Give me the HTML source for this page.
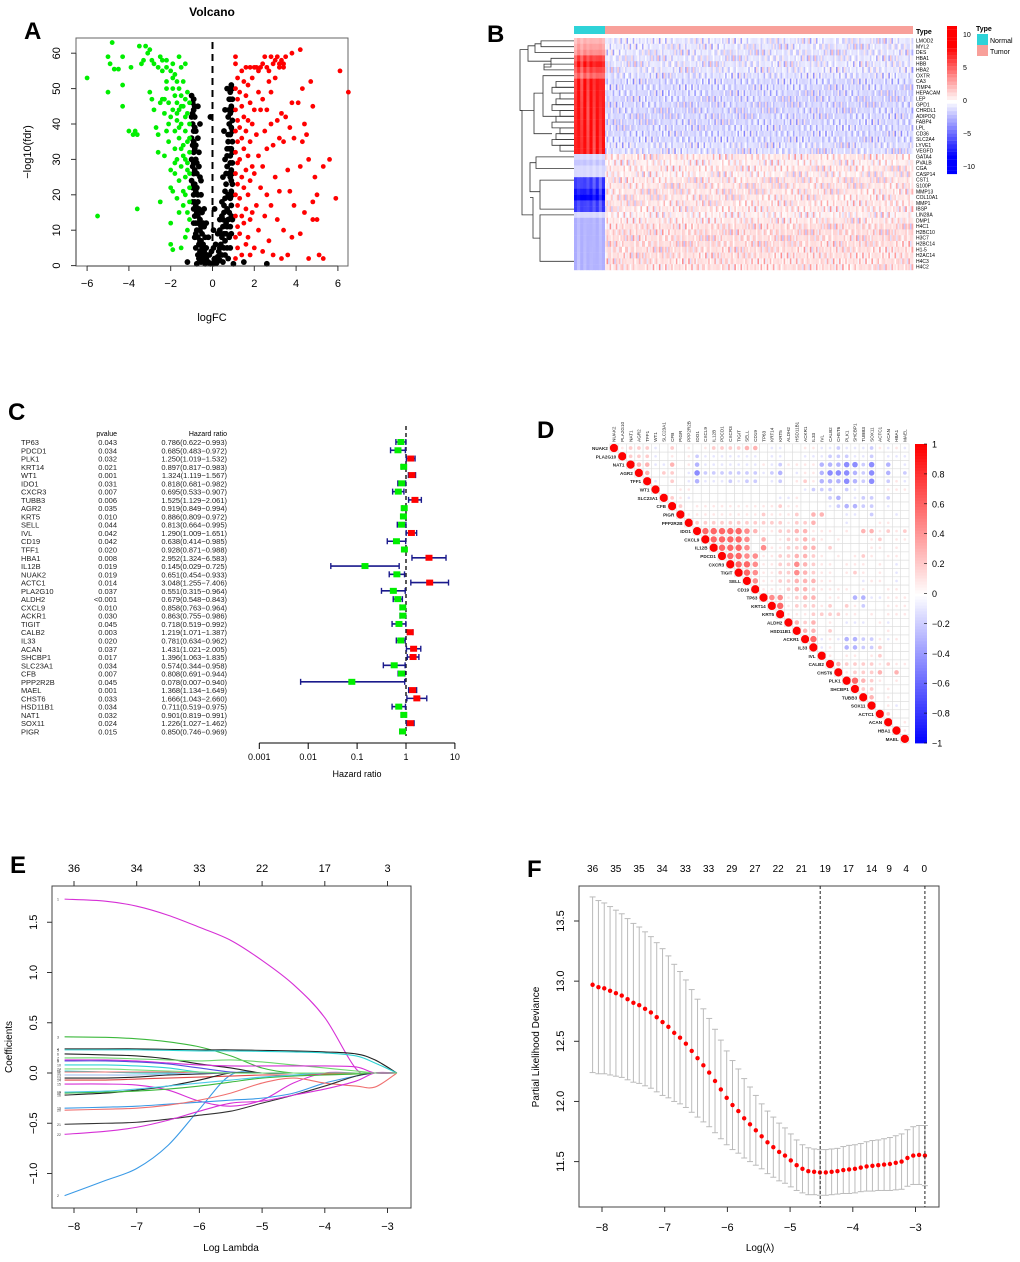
<!DOCTYPE html>
<html><head><meta charset="utf-8"><style>
html,body{margin:0;padding:0;background:#fff;}
svg{display:block;font-family:"Liberation Sans",Arial,sans-serif;}
</style></head><body>
<svg id="fig" width="1020" height="1262" viewBox="0 0 1020 1262" xmlns="http://www.w3.org/2000/svg">
<g id="pA"></g>
<g id="pB"></g>
<g id="pC"></g>
<g id="pD"></g>
<g id="pE"></g>
<g id="pF"></g>
</svg>
<script>
// ---------- DATA ----------
const volcanoGreen=[[-6,53],[-5.5,14],[-5,59],[-5,49],[-4.9,57],[-4.8,63],[-4.7,55.5],[-4.5,55.5],[-4.3,59],[-4.3,51],[-4.3,45],[-4.0,38],[-3.9,56],[-3.8,37],[-3.7,38],[-3.6,37],[-3.6,16],[-3.5,62],[-3.4,57],[-3.3,58],[-3.2,62],[-3.1,60],[-3.0,61],[-2.9,58],[-2.8,57],[-3.0,49],[-2.9,47],[-2.8,44],[-2.7,39],[-2.6,37],[-2.6,32],[-2.5,18],[-2.5,59],[-2.4,55],[-2.4,47],[-2.3,43],[-2.3,31],[-2.2,58],[-2.2,52],[-2.1,46],[-2.1,40],[-2.1,35],[-2.0,27],[-2.0,22],[-2.0,12],[-2.0,6],[-1.9,57],[-1.9,50],[-1.9,44],[-1.9,21],[-1.9,4.5],[-1.8,54],[-1.8,48],[-1.8,38],[-1.8,33],[-1.8,26],[-1.7,52],[-1.7,46],[-1.7,41],[-1.7,30],[-1.7,19],[-1.6,59],[-1.6,50],[-1.6,44],[-1.6,36],[-1.6,24],[-1.6,15],[-1.5,56],[-1.5,48],[-1.5,40],[-1.5,28],[-1.5,5],[-1.4,52],[-1.4,45],[-1.4,34],[-1.4,21],[-1.4,17],[-1.3,57],[-1.3,47],[-1.3,38],[-1.3,30],[-1.3,25],[-1.3,8],[-1.2,49],[-1.2,43],[-1.2,35],[-1.2,27],[-1.2,15],[-1.2,10],[-1.1,46],[-1.1,40],[-1.1,32],[-1.1,22],[-1.1,13],[-2.2,56],[-2.0,55],[-1.9,53],[-2.3,47],[-2.5,46],[-1.7,43],[-2.4,58],[-2.6,56],[-2.2,50],[-1.5,45],[-1.3,42],[-1.1,36],[-1.2,29],[-1.1,26],[-1.4,31],[-1.6,39],[-2.0,42],[-2.2,38],[-1.8,29],[-1.5,33],[-1.1,18],[-1.3,20]];
const volcanoRed=[[1.1,59],[1.1,57],[1.2,53],[1.1,50],[1.2,47],[1.1,44],[1.2,41],[1.1,38],[1.2,35],[1.1,32],[1.2,29],[1.1,26],[1.2,23],[1.1,20],[1.2,17],[1.1,14],[1.2,11],[1.1,8],[1.2,5],[1.1,2],[1.3,49],[1.3,39],[1.3,30],[1.3,19],[1.3,9],[1.4,55],[1.4,45],[1.4,36],[1.4,25],[1.4,14],[1.4,3],[1.5,52],[1.5,42],[1.5,33],[1.5,22],[1.5,12],[1.6,56],[1.6,48],[1.6,38],[1.6,27],[1.6,16],[1.6,6],[1.7,51],[1.7,41],[1.7,31],[1.7,20],[1.7,8],[1.8,56],[1.8,46],[1.8,35],[1.8,24],[1.8,13],[1.8,3],[1.9,53],[1.9,40],[1.9,28],[1.9,15],[2.0,56],[2.0,44],[2.0,26],[2.0,5],[2.1,56],[2.1,37],[2.1,17],[2.2,55],[2.2,49],[2.2,31],[2.2,10],[2.3,56],[2.3,44],[2.3,22],[2.4,57],[2.4,47],[2.4,28],[2.4,4],[2.5,59],[2.5,38],[2.5,14],[2.6,56],[2.6,44],[2.6,33],[2.6,20],[2.7,55],[2.7,52],[2.7,7],[2.8,59],[2.8,49],[2.8,40],[2.8,17],[2.9,57],[2.9,34],[2.9,3],[3.0,58],[3.0,53],[3.0,25],[3.1,59],[3.1,41],[3.1,13],[3.2,57],[3.2,56],[3.2,36],[3.2,21],[3.3,58],[3.3,43],[3.3,2],[3.4,56],[3.4,57],[3.4,35],[3.4,10],[3.5,59],[3.5,42],[3.6,27],[3.6,3],[3.7,21],[3.7,39],[3.8,60],[3.8,46],[3.8,8],[3.9,36],[3.9,17],[4.1,46],[4.2,61],[4.2,28],[4.2,9],[4.3,50],[4.3,35],[4.4,40],[4.4,15],[4.5,37],[4.6,30],[4.6,2],[4.7,52],[4.8,45],[4.8,18],[4.8,13],[4.9,25],[5.0,20],[5.0,13],[5.1,3],[5.3,28],[5.3,2],[5.6,30],[5.9,19],[6.1,55],[6.5,49]];
const volcanoBlack=[[-1,48],[-0.95,46],[-0.9,44],[-1,42],[-0.95,40],[-0.9,38],[-1,36],[-0.95,34],[-0.9,32],[-1,30],[-0.95,28],[-0.9,26],[-1,24],[-0.95,22],[-0.9,20],[-0.85,18],[-0.9,16],[-0.85,14],[-0.8,12],[-0.75,10],[-0.7,8],[-0.65,6],[-0.6,4],[-0.5,2],[-0.4,1],[-0.85,42],[-0.8,38],[-0.8,34],[-0.8,30],[-0.75,26],[-0.75,22],[-0.7,18],[-0.7,14],[-0.6,10],[-0.55,7],[-0.5,5],[-0.45,3],[-0.3,2],[-0.2,1],[-0.1,0.5],[-0.7,45],[-0.6,40],[-0.65,32],[-0.6,25],[-0.55,20],[-0.5,15],[-0.4,11],[-0.35,8],[-0.3,5],[-0.15,3],[-0.3,12],[-0.2,8],[-0.1,42],[-0.75,0.5],[-1.2,1],[0.9,51],[0.85,49],[0.95,47],[0.9,45],[0.85,43],[0.95,41],[0.9,39],[0.85,37],[0.95,35],[0.9,33],[0.85,31],[0.95,29],[0.9,27],[0.85,25],[0.95,23],[0.9,21],[0.85,19],[0.9,17],[0.8,15],[0.75,13],[0.7,11],[0.65,9],[0.6,7],[0.55,5],[0.45,3],[0.35,1.5],[0.2,0.8],[0.8,47],[0.75,42],[0.75,37],[0.7,33],[0.7,28],[0.65,23],[0.6,19],[0.55,15],[0.5,11],[0.45,8],[0.4,6],[0.3,4],[0.1,2],[0.6,30],[0.5,25],[0.45,18],[0.35,13],[0.25,9],[0.15,6],[0.7,50],[0.6,44],[0.55,38],[0.1,16],[0.05,10],[1.0,0.5],[1.5,1],[2.6,0.5],[-0.05,4],[0.05,5],
[-0.9,47],[-0.85,45],[-0.95,43],[-0.85,39],[-0.9,35],[-0.85,33],[-0.9,29],[-0.85,27],[-0.9,23],[-0.8,21],[-0.85,23],[-0.8,17],[-0.75,15],[-0.8,9],[-0.7,12],[-0.65,16],[-0.7,20],[-0.75,29],[-0.7,36],[-0.65,28],[-0.6,13],[-0.55,11],[-0.45,6],[-0.4,4],[-0.25,3],[-0.65,2],[-0.55,1],[-0.35,0.5],[0.15,1],[0.05,0.5],[0.25,2.5],[0.35,5],[0.4,9],[0.5,13],[0.55,17],[0.6,21],[0.65,26],[0.7,31],[0.75,35],[0.8,40],[0.8,44],[0.85,47],[0.95,50],[0.95,44],[0.95,38],[0.95,32],[0.95,26],[0.95,20],[0.9,14],[0.85,11],[0.8,8],[0.7,5],[0.6,3],[0.5,1],[0.75,2],[0.85,5],[0.9,9],[0.95,13],[0.9,24],[0.85,29],[0.8,33],[0.8,26],[0.75,20],[0.7,16],[0.65,12],[0.55,9],[0.45,14],[0.35,10],[-0.95,18],[-0.9,12],[-0.85,8],[-0.8,5],[-0.7,3],[-0.6,7],[-0.5,9],[-0.45,12],[-0.4,16],[-0.55,24]];

const hmGenes=["LMOD2","MYL2","DES","HBA1","HBB","HBA2","OXTR","CA3","TIMP4","HEPACAM","LEP","GPD1","CHRDL1","ADIPOQ","FABP4","LPL","CD36","SLC2A4","LYVE1","VEGFD","GATA4","PVALB","CGA","CASP14","CST1","S100P","MMP13","COL10A1","MMP1","IBSP","LIN28A","DMP1","H4C1","H2BC10","H3C7","H2BC14","H1-5","H2AC14","H4C3","H4C2"];
const hmNormal=[2,2.5,3,5,6,5,4,6,6,6,6,6,6,6,6,6,6,6,6,6,-1,-1.5,-1,-1,-5,-5,-6,-7,-5,-5,-1,-2,-2,-2,-2,-2,-2,-2,-2,-2];
const hmTumor=[-0.3,-0.3,-0.3,-0.3,-0.3,-0.3,-0.4,-0.5,-0.5,-0.5,-0.5,-0.5,-0.5,-0.5,-0.5,-0.5,-0.5,-0.5,-0.4,-0.4,0.3,0.2,0.3,0.2,0.3,0.3,0.3,0.3,0.3,0.3,0.2,0.3,0.4,0.4,0.4,0.4,0.4,0.4,0.4,0.4];

const fGenes=["TP63","PDCD1","PLK1","KRT14","WT1","IDO1","CXCR3","TUBB3","AGR2","KRT5","SELL","IVL","CD19","TFF1","HBA1","IL12B","NUAK2","ACTC1","PLA2G10","ALDH2","CXCL9","ACKR1","TIGIT","CALB2","IL33","ACAN","SHCBP1","SLC23A1","CFB","PPP2R2B","MAEL","CHST6","HSD11B1","NAT1","SOX11","PIGR"];
const fP=["0.043","0.034","0.032","0.021","0.001","0.031","0.007","0.006","0.035","0.010","0.044","0.042","0.042","0.020","0.008","0.019","0.019","0.014","0.037","<0.001","0.010","0.030","0.045","0.003","0.020","0.037","0.017","0.034","0.007","0.045","0.001","0.033","0.034","0.032","0.024","0.015"];
const fHR=[0.786,0.685,1.250,0.897,1.324,0.818,0.695,1.525,0.919,0.886,0.813,1.290,0.638,0.928,2.952,0.145,0.651,3.048,0.551,0.679,0.858,0.863,0.718,1.219,0.781,1.431,1.396,0.574,0.808,0.078,1.368,1.666,0.711,0.901,1.226,0.850];
const fLo=[0.622,0.483,1.019,0.817,1.119,0.681,0.533,1.129,0.849,0.809,0.664,1.009,0.414,0.871,1.324,0.029,0.454,1.255,0.315,0.548,0.763,0.755,0.519,1.071,0.634,1.021,1.063,0.344,0.691,0.007,1.134,1.043,0.519,0.819,1.027,0.746];
const fHi=[0.993,0.972,1.532,0.983,1.567,0.982,0.907,2.061,0.994,0.972,0.995,1.651,0.985,0.988,6.583,0.725,0.933,7.406,0.964,0.843,0.964,0.986,0.992,1.387,0.962,2.005,1.835,0.958,0.944,0.940,1.649,2.660,0.975,0.991,1.462,0.969];
const fTicks=[0.001,0.01,0.1,1,10];

const cGenes=["NUAK2","PLA2G10","NAT1","AGR2","TFF1","WT1","SLC23A1","CFB","PIGR","PPP2R2B","IDO1","CXCL9","IL12B","PDCD1","CXCR3","TIGIT","SELL","CD19","TP63","KRT14","KRT5","ALDH2","HSD11B1","ACKR1","IL33","IVL","CALB2","CHST6","PLK1","SHCBP1","TUBB3","SOX11","ACTC1","ACAN","HBA1","MAEL"];
const cRows=["1222a.2.1.1222233.aa..11aabaaab1a1a","222a.1.1baaaaaaa.aa..aaabbbaab.aaa","33aa3.1caaaaaaa1ab1111cccddbd.c.a","3.22.adbbbbbbbabc.a11cdddcbd.c.b","a.2.acaaababb.ab.121cccdcbd.b1a","..11.............abbb.ba...111.2..","21a..........aa1...bc.abb.b..","2.1111111111211...abccbb.a...","11111111121112 33..aa.b..a..","222222222221223...a...11..","5555543112233111 1.331212a1","55554 3.122321 1...12.11a.","5554 4112233 2....11.1...","554411223321 1.121.11..","554112243211.111.1.a.","54112243211.121.1.a.","4112233311...a11.a.","11123321111.1..11..","441233 11.ccaa111.","5122212 21b..111.","111222211.1.111","323.1.aaa.1a..","33.2......1..","5a1accbb1a1.","a1.ccbb2...","1.11 12....","322221211","12223 3..","5321 1..","22.1..","3.1..",".1a.","2..",".1","1"];
const cLegend=[1,0.8,0.6,0.4,0.2,0,-0.2,-0.4,-0.6,-0.8,-1];

const eLambda=[-8.15,-7.5,-7,-6.5,-6,-5.5,-5,-4.5,-4,-3.5,-3.2,-2.85];
const eTop=[36,34,33,22,17,3];
const eCoefs=[
 [1.73,1.71,1.66,1.57,1.45,1.32,1.12,0.88,0.55,0.04,0,0],
 [-1.22,-1.07,-0.95,-0.72,-0.36,-0.02,0,0,0,0,0,0],
 [0.36,0.355,0.34,0.31,0.26,0.17,0.05,0,0,0,0,0],
 [0.24,0.24,0.24,0.235,0.23,0.23,0.225,0.22,0.21,0.19,0.13,0],
 [0.23,0.23,0.23,0.225,0.22,0.22,0.215,0.21,0.2,0.17,0.1,0],
 [0.19,0.18,0.17,0.14,0.09,0.05,0,0,0,0,0,0],
 [0.15,0.15,0.14,0.13,0.12,0.13,0.11,0.08,0.05,0.02,0,0],
 [0.13,0.13,0.12,0.1,0.08,0.07,0.07,0.07,0.07,0.06,0,0],
 [0.12,0.12,0.11,0.09,0.05,0.01,0,0,0,0,0,0],
 [0.08,0.08,0.07,0.05,0.01,0,0,0,0,0,0,0],
 [0.02,0.01,0,0,0,0,0,0,0,0,0,0],
 [0.01,0.01,0.01,0.01,0,0,0,0,0,0,0,0],
 [-0.05,-0.05,-0.04,-0.02,-0.01,0,0,0,0,0,0,0],
 [-0.07,-0.07,-0.06,-0.05,-0.04,-0.03,-0.02,-0.02,-0.01,-0.01,0,0],
 [-0.11,-0.11,-0.12,-0.17,-0.28,-0.33,-0.27,-0.1,0,0,0,0],
 [-0.22,-0.2,-0.17,-0.13,-0.07,0,0,0,0,0,0,0],
 [-0.2,-0.19,-0.18,-0.16,-0.13,-0.09,-0.05,-0.03,-0.02,-0.01,0,0],
 [-0.19,-0.18,-0.16,-0.13,-0.1,-0.07,-0.04,-0.02,0,0,0,0],
 [-0.35,-0.34,-0.33,-0.31,-0.29,-0.27,-0.25,-0.2,-0.1,-0.03,0,0],
 [-0.37,-0.36,-0.35,-0.32,-0.27,-0.2,-0.1,-0.05,-0.1,-0.13,-0.14,0],
 [-0.51,-0.5,-0.49,-0.46,-0.42,-0.38,-0.3,-0.22,-0.13,-0.03,0,0],
 [-0.61,-0.58,-0.54,-0.47,-0.38,-0.3,-0.28,-0.22,-0.16,-0.08,0,0],
 [-0.02,-0.02,-0.02,-0.01,0,0,0,0,0,0,0,0],
 [0.04,0.04,0.03,0.02,0.01,0,0,0,0,0,0,0]
];
const eColors=["#d62fd6","#3a9ae6","#3cb83c","#222","#2ed3d3","#222","#6fd66f","#d62fd6","#5050e0","#2ed3d3","#2ed3d3","#f07070","#222","#e04848","#d62fd6","#222","#3cb83c","#4ec8e8","#3a9ae6","#f07070","#333","#d62fd6","#9be","#7d7"];

const fMean=[12.97,12.95,12.94,12.92,12.90,12.88,12.85,12.82,12.80,12.77,12.74,12.70,12.66,12.62,12.57,12.53,12.48,12.42,12.36,12.30,12.24,12.17,12.10,12.03,11.97,11.92,11.86,11.81,11.76,11.71,11.66,11.62,11.58,11.55,11.51,11.47,11.44,11.42,11.415,11.41,11.41,11.415,11.42,11.43,11.435,11.44,11.45,11.46,11.465,11.47,11.475,11.48,11.49,11.50,11.53,11.55,11.555,11.55];
const fSE=[0.73,0.72,0.71,0.70,0.69,0.68,0.67,0.66,0.65,0.64,0.63,0.62,0.61,0.59,0.57,0.55,0.53,0.51,0.49,0.47,0.45,0.43,0.41,0.39,0.37,0.35,0.33,0.31,0.29,0.27,0.26,0.25,0.24,0.23,0.22,0.21,0.20,0.195,0.19,0.19,0.19,0.19,0.19,0.195,0.2,0.2,0.2,0.205,0.21,0.21,0.215,0.22,0.225,0.23,0.235,0.24,0.245,0.25];
const fTop=[36,35,35,34,33,33,29,27,22,21,19,17,14,9,4,0];
const fTopX=[-8.15,-7.78,-7.41,-7.04,-6.67,-6.3,-5.93,-5.56,-5.19,-4.82,-4.44,-4.07,-3.7,-3.42,-3.15,-2.86];
const fLamMin=-4.52, fLam1se=-2.85;

// ---------- helpers ----------
const NS="http://www.w3.org/2000/svg";
function mk(parent,tag,attrs,text){const e=document.createElementNS(NS,tag);for(const k in attrs)e.setAttribute(k,attrs[k]);if(text!==undefined)e.textContent=text;parent.appendChild(e);return e;}
function txt(parent,x,y,s,size,opts){opts=opts||{};const e=mk(parent,'text',{x:x,y:y,'font-size':size,'text-anchor':opts.anchor||'start',fill:opts.fill||'#000','font-weight':opts.bold?'bold':'normal'},s);if(opts.rot)e.setAttribute('transform',`rotate(${opts.rot} ${x} ${y})`);return e;}

// ---------- Panel A ----------
(function(){
const g=document.getElementById('pA');
const X=v=>212.5+v*20.9, Y=v=>265.6-v*3.54;
let t=txt(g,24,39,'A',24,{bold:1});


t=txt(g,212,16,'Volcano',12,{bold:1,anchor:'middle'});


let r=mk(g,'rect',{x:76,y:38,width:272,height:228,fill:'none',stroke:'#666','stroke-width':1});


const pts=mk(g,'g',{});


volcanoBlack.forEach(p=>{const c=mk(pts,'circle',{cx:X(p[0]),cy:Y(p[1]),r:2.9,fill:'#000'});});
volcanoGreen.forEach(p=>{const c=mk(pts,'circle',{cx:X(p[0]),cy:Y(p[1]),r:2.4,fill:'#00ee00'});});
volcanoRed.forEach(p=>{const c=mk(pts,'circle',{cx:X(p[0]),cy:Y(p[1]),r:2.4,fill:'#ff0000'});});
let l=mk(g,'line',{x1:X(0),x2:X(0),y1:42,y2:266,stroke:'#000','stroke-width':2,'stroke-dasharray':'7,5'});


const ax=mk(g,'g',{});


mk(ax,'line',{x1:X(-6),x2:X(6),y1:266,y2:266,stroke:'#333'});
[-6,-4,-2,0,2,4,6].forEach(v=>{mk(ax,'line',{x1:X(v),x2:X(v),y1:266,y2:271,stroke:'#333'});txt(ax,X(v),287,v<0?'\u2212'+(-v):String(v),11,{anchor:'middle'});});
const ay=mk(g,'g',{});


mk(ay,'line',{x1:76,x2:76,y1:Y(0),y2:Y(60),stroke:'#333'});
[0,10,20,30,40,50,60].forEach(v=>{mk(ay,'line',{x1:71,x2:76,y1:Y(v),y2:Y(v),stroke:'#333'});txt(ay,60,Y(v),String(v),11,{anchor:'middle',rot:-90});});
t=txt(g,212,321,'logFC',11,{anchor:'middle'});


t=txt(g,31,152,'\u2212log10(fdr)',11,{anchor:'middle',rot:-90});


})();

// ---------- Panel B ----------
(function(){
const g=document.getElementById('pB');
let t=txt(g,487,42,'B',24,{bold:1});


const x0=574,x1=913,xN=605,y0=38,rh=5.8;
function col(v){v=Math.max(-10,Math.min(10,v));const a=Math.abs(v)/10;const k=Math.round(255*(1-Math.min(1,a*1.35)));return v>=0?`rgb(255,${k},${k})`:`rgb(${k},${k},255)`;}
let b=mk(g,'rect',{x:x0,y:26,width:xN-x0,height:8,fill:'#2ed3d8'});


b=mk(g,'rect',{x:xN,y:26,width:x1-xN,height:8,fill:'#f8a09a'});


t=txt(g,916,34,'Type',7,{bold:1});


const hm=mk(g,'g',{});


const nc=10, tc=200;
hmGenes.forEach((gn,i)=>{
  const y=y0+i*rh;
  for(let c=0;c<nc;c++){const w=(xN-x0)/nc;const v=hmNormal[i]*(0.8+0.4*Math.abs(Math.sin(i*3.1+c*1.7)));mk(hm,'rect',{x:x0+c*w,y:y,width:w+0.3,height:rh+0.2,fill:col(v)});}
  for(let c=0;c<tc;c++){const w=(x1-xN)/tc;const v=hmTumor[i]*2.2+2.6*Math.sin(c*2.37+i*0.9)*Math.cos(c*0.71+i*1.3)*Math.sin(c*0.13+i*2.1);mk(hm,'rect',{x:xN+c*w,y:y,width:w+0.3,height:rh+0.2,fill:col(v)});}
  const lb=txt(g,916,y+4.5,gn,5);
  
  
});
const d=mk(g,'g',{fill:'none',stroke:'#333','stroke-width':0.8});


const ym=i=>y0+i*rh+rh/2;
function br(xj,ya,yb,xa,xb){mk(d,'path',{d:`M${xa},${ya}H${xj}V${yb}H${xb}`});}
br(541,ym(0),ym(1),574,574);br(544,ym(4),ym(5),574,574);br(551,ym(3),(ym(4)+ym(5))/2,574,544);
br(535,(ym(0)+ym(1))/2,ym(2),541,574);br(528,(ym(0)+ym(1))/2+2,(ym(3)+ym(4))/2,535,551);
for(let i=7;i<19;i++){br(560-(i%3)*4,ym(i),ym(i+1),574,574);}
br(543,ym(6),ym(13),574,556);br(534,ym(9),ym(16),543,552);br(520,(ym(1)+ym(2))/2,ym(12),528,534);
br(536,ym(20),ym(22),574,574);br(530,ym(21),ym(26),536,540);br(540,ym(24),ym(29),574,574);
br(540,ym(30),ym(38),574,574);br(533,ym(27),ym(34),530,540);br(522,ym(12),ym(30),520,533);
const cb=mk(g,'g',{});


for(let k=0;k<40;k++){const v=10-k*0.5;mk(cb,'rect',{x:947,y:26+k*3.7,width:10,height:3.8,fill:col(v)});}
[[10,34],[5,67],[0,100],[-5,133],[-10,166]].forEach(a=>txt(cb,963,a[1]+3,a[0]<0?'\u2212'+(-a[0]):String(a[0]),7));
const lg=mk(g,'g',{});


txt(lg,976,31,'Type',7,{bold:1});
mk(lg,'rect',{x:977,y:34,width:11,height:11,fill:'#2ed3d8'});
mk(lg,'rect',{x:977,y:45,width:11,height:11,fill:'#f8a09a'});
txt(lg,990,43,'Normal',7);txt(lg,990,54,'Tumor',7);
})();

// ---------- Panel C ----------
(function(){
const g=document.getElementById('pC');
let t=txt(g,8,420,'C',24,{bold:1});


const L=v=>406+Math.log10(v)*48.9;
const rowY=i=>442+i*8.27;
t=txt(g,117,436,'pvalue',7,{anchor:'end'});


t=txt(g,227,436,'Hazard ratio',7,{anchor:'end'});


mk(g,'line',{x1:L(1),x2:L(1),y1:426,y2:736,stroke:'#000','stroke-width':1.3,'stroke-dasharray':'4,3'});
fGenes.forEach((gn,i)=>{
  const y=rowY(i);
  const row=mk(g,'g',{});
  
  
  txt(row,21,y+3,gn,7.5,{fill:'#222'});
  txt(row,117,y+3,fP[i],7.5,{anchor:'end',fill:'#222'});
  txt(row,227,y+3,fHR[i].toFixed(3)+'('+fLo[i].toFixed(3)+'\u2212'+fHi[i].toFixed(3)+')',7.5,{anchor:'end',fill:'#222'});
  mk(row,'line',{x1:L(fLo[i]),x2:L(fHi[i]),y1:y,y2:y,stroke:'#1a1a8c','stroke-width':1.6});
  mk(row,'line',{x1:L(fLo[i]),x2:L(fLo[i]),y1:y-3,y2:y+3,stroke:'#1a1a8c','stroke-width':1.4});
  mk(row,'line',{x1:L(fHi[i]),x2:L(fHi[i]),y1:y-3,y2:y+3,stroke:'#1a1a8c','stroke-width':1.4});
  mk(row,'rect',{x:L(fHR[i])-3.5,y:y-3,width:7,height:6,fill:fHR[i]>1?'#ff0000':'#00ee00'});
});
const ax=mk(g,'g',{});


mk(ax,'line',{x1:L(0.001),x2:L(10),y1:743,y2:743,stroke:'#000'});
fTicks.forEach(v=>{mk(ax,'line',{x1:L(v),x2:L(v),y1:743,y2:749,stroke:'#000'});txt(ax,L(v),760,String(v),9,{anchor:'middle'});});
t=txt(g,357,777,'Hazard ratio',9,{anchor:'middle'});


})();

// ---------- Panel D ----------
(function(){
const g=document.getElementById('pD');
let t=txt(g,537,438,'D',24,{bold:1});


const cx0=614,cy0=448,s=8.31;
const map={'.':0,' ':0,'1':0.1,'2':0.2,'3':0.3,'4':0.45,'5':0.6,'a':-0.1,'b':-0.2,'c':-0.3,'d':-0.45};
function col(v){const a=Math.min(1,Math.abs(v));const k=Math.round(255*(1-a));return v>=0?`rgb(255,${k},${k})`:`rgb(${k},${k},255)`;}
const n=cGenes.length;
const grid=mk(g,'g',{});


for(let i=0;i<n;i++){
  for(let j=i;j<n;j++){
    let v=1; if(j>i){const str=cRows[i]||'';v=map[str[j-i-1]]??0;}
    const x=cx0+j*s,y=cy0+i*s;
    mk(grid,'rect',{x:x-s/2,y:y-s/2,width:s,height:s,fill:'#fff',stroke:'#ddd','stroke-width':0.6});
    if(v!==0){const c=mk(grid,'circle',{cx:x,cy:y,r:Math.sqrt(Math.abs(v))*s*0.5,fill:col(v)});}
  }
  const rl=txt(g,cx0+i*s-s/2-2,cy0+i*s+2,cGenes[i],4.6,{anchor:'end',bold:1,fill:'#222'});
  
  
  const cl=txt(g,cx0+i*s+1.7,cy0-s/2-2,cGenes[i],4.6,{rot:-90,fill:'#222'});
  
  
}
const cb=mk(g,'g',{});


const top=444,bot=743;
for(let k=0;k<100;k++){const v=1-k*0.02;mk(cb,'rect',{x:915,y:top+k*(bot-top)/100,width:12,height:(bot-top)/100+0.4,fill:col(v)});}
cLegend.forEach(v=>{const y=top+(1-v)/2*(bot-top);mk(cb,'line',{x1:924,x2:927,y1:y,y2:y,stroke:'#000','stroke-width':0.6});txt(cb,932,y+3.5,v<0?'\u2212'+(-v):String(v),9);});
})();

// ---------- Panel E ----------
(function(){
const g=document.getElementById('pE');
let t=txt(g,10,873,'E',24,{bold:1});


const X=v=>74+(v+8)*62.7, Y=v=>1073-v*100.5;
let r=mk(g,'rect',{x:52,y:886,width:359,height:322,fill:'none',stroke:'#444'});


const lines=mk(g,'g',{fill:'none','stroke-width':1.1});


eCoefs.forEach((c,k)=>{
  const p=c.map((v,i)=>[X(eLambda[i]),Y(v)]);
  let d=`M${p[0][0]},${p[0][1]}`;
  for(let i=0;i<p.length-1;i++){const p0=p[Math.max(0,i-1)],p1=p[i],p2=p[i+1],p3=p[Math.min(p.length-1,i+2)];
    d+=` C${p1[0]+(p2[0]-p0[0])/6},${p1[1]+(p2[1]-p0[1])/6} ${p2[0]-(p3[0]-p1[0])/6},${p2[1]-(p3[1]-p1[1])/6} ${p2[0]},${p2[1]}`;}
  const pa=mk(lines,'path',{d:d,stroke:eColors[k%eColors.length]});
  
  
  txt(g,57,Y(c[0])+1.5,String(k+1),3.5,{fill:'#333'});
});
const ax=mk(g,'g',{});


[-8,-7,-6,-5,-4,-3].forEach((v,i)=>{
  mk(ax,'line',{x1:X(v),x2:X(v),y1:1208,y2:1213,stroke:'#333'});
  txt(ax,X(v),1230,'\u2212'+(-v),11,{anchor:'middle'});
  mk(ax,'line',{x1:X(v),x2:X(v),y1:881,y2:886,stroke:'#333'});
  txt(ax,X(v),872,String(eTop[i]),11,{anchor:'middle'});
});
const ay=mk(g,'g',{});


[-1,-0.5,0,0.5,1,1.5].forEach(v=>{mk(ay,'line',{x1:47,x2:52,y1:Y(v),y2:Y(v),stroke:'#333'});txt(ay,37,Y(v),(v<0?'\u2212':'')+Math.abs(v).toFixed(1),11,{anchor:'middle',rot:-90});});
t=txt(g,231,1251,'Log Lambda',10,{anchor:'middle'});


t=txt(g,12,1047,'Coefficients',10,{anchor:'middle',rot:-90});


})();

// ---------- Panel F ----------
(function(){
const g=document.getElementById('pF');
let t=txt(g,527,877,'F',24,{bold:1});


const X=v=>602+(v+8)*62.7, Y=v=>921+(13.5-v)*120.3;
let r=mk(g,'rect',{x:579,y:886,width:360,height:321,fill:'none',stroke:'#444'});


const n=fMean.length, l0=-8.15, l1=-2.85;
const eb=mk(g,'g',{stroke:'#bbb','stroke-width':1});


const dots=mk(g,'g',{});


fMean.forEach((m,i)=>{
  const x=X(l0+(l1-l0)*i/(n-1));
  mk(eb,'line',{x1:x,x2:x,y1:Y(m+fSE[i]),y2:Y(m-fSE[i])});
  mk(eb,'line',{x1:x-3,x2:x+3,y1:Y(m+fSE[i]),y2:Y(m+fSE[i])});
  mk(eb,'line',{x1:x-3,x2:x+3,y1:Y(m-fSE[i]),y2:Y(m-fSE[i])});
  const c=mk(dots,'circle',{cx:x,cy:Y(m),r:2.2,fill:'#ff0000'});
  
  
});
[fLamMin,fLam1se].forEach(v=>{const l=mk(g,'line',{x1:X(v),x2:X(v),y1:886,y2:1207,stroke:'#222','stroke-dasharray':'3,2'});});
const ax=mk(g,'g',{});


[-8,-7,-6,-5,-4,-3].forEach(v=>{mk(ax,'line',{x1:X(v),x2:X(v),y1:1207,y2:1212,stroke:'#333'});txt(ax,X(v),1231,'\u2212'+(-v),11,{anchor:'middle'});});
fTop.forEach((v,i)=>txt(ax,X(fTopX[i]),872,String(v),10,{anchor:'middle'}));
const ay=mk(g,'g',{});


[11.5,12,12.5,13,13.5].forEach(v=>{mk(ay,'line',{x1:574,x2:579,y1:Y(v),y2:Y(v),stroke:'#333'});txt(ay,564,Y(v),v.toFixed(1),11,{anchor:'middle',rot:-90});});
t=txt(g,760,1251,'Log(\u03bb)',10,{anchor:'middle'});


t=txt(g,539,1047,'Partial Likelihood Deviance',10,{anchor:'middle',rot:-90});


})();
</script>
</body></html>
